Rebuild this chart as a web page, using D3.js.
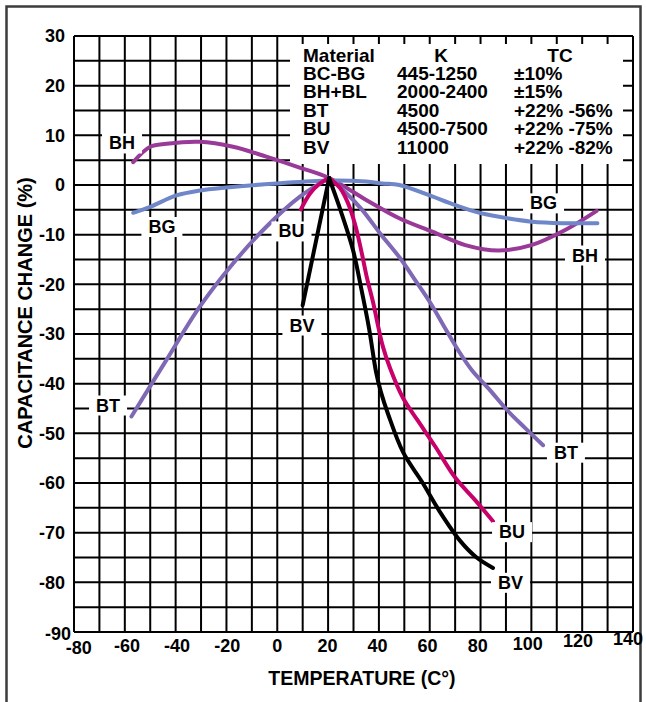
<!DOCTYPE html>
<html>
<head>
<meta charset="utf-8">
<script src="https://cdn.jsdelivr.net/npm/d3@7"></script>
<style>
  body { margin: 0; background: #fff; }
  text { font-family: "Liberation Sans", Arial, Helvetica, sans-serif; font-weight: bold; fill: #000; }
</style>
</head>
<body>
<div id="chart"></div>
<script>
// tick labels
var tempTicks = d3.range(-80, 141, 20);
var capTicks = d3.range(-90, 31, 10);

// curves: temperature (C) and capacitance change (%)
var refTemp = 20.4;
var bhTemp = [-56.7, -50, -43.6, -30.5, -17.4, -4.3, 8.8, 20.4, 35, 48, 61, 74, 87, 100, 113.5, 125.7];
var bhCap  = [4.6, 7.7, 8.3, 8.7, 7.7, 5.7, 3.5, 1.4, -3, -6.7, -9.4, -12.1, -13.2, -12.1, -9, -5.2];
var bgTemp = [-56.7, -50, -39.7, -30.5, -20, -0.4, 20.4, 35, 41.4, 48, 61, 67.7, 78.2, 87.3, 100.3, 113.5, 126];
var bgCap  = [-5.6, -4.4, -2.1, -1.1, -0.5, 0.3, 0.9, 0.7, 0.3, 0, -2.3, -3.6, -5.4, -6.4, -7.4, -7.7, -7.7];
var btTemp = [-57.4, -43.6, -30.5, -17.4, -4.3, 8.8, 20.4, 26.7, 33.4, 40.4, 48.3, 54.2, 60.1, 66, 71.1, 76.6, 83.7, 90.4, 97.5, 104.6];
var btCap  = [-46.6, -35.2, -24.5, -15.8, -8.4, -2.4, 1.4, -1.4, -5, -9.7, -14.7, -19.1, -23.6, -28.8, -33.2, -37.3, -41.3, -45.3, -48.9, -52.4];
var buTemp = [9.3, 12.9, 16.8, 20.4, 24.7, 27.8, 30.6, 33, 35.3, 37.7, 39.6, 41.6, 44.4, 49.5, 55.4, 62.1, 70, 77.8, 84.9];
var buCap  = [-4.9, -1.7, 0.3, 1.4, -0.6, -3.6, -7.9, -13.1, -18.7, -23.6, -28.2, -32.6, -36.9, -42.9, -47.5, -52.6, -58.9, -63.4, -67.7];
var bvTemp = [10, 20.4, 25.1, 29.8, 33, 36.1, 38.9, 40.8, 43.6, 49.5, 57, 64, 71.9, 78.2, 84.9];
var bvCap  = [-24.2, 1.4, -5.4, -13.1, -20.7, -28.8, -37.7, -41.7, -46.1, -53.8, -59.8, -65.8, -71.6, -74.9, -77.1];

// curve name labels (temperature, capacitance)
var labelNames = ["BH", "BG", "BU", "BV", "BT", "BG", "BH", "BT", "BU", "BV"];
var labelTemp  = [-61.1, -45.4, 5.6, 9.7, -66.6, 104.8, 121.1, 113.6, 92.4, 91.8];
var labelCap   = [8.46, -8.36, -9.26, -28.2, -44.3, -3.6, -14.1, -53.8, -69.8, -80.0];

// material table
var tableHead = ["Material", "K", "TC"];
var materials = ["BC-BG", "BH+BL", "BT", "BU", "BV"];
var kValues   = ["445-1250", "2000-2400", "4500", "4500-7500", "11000"];
var tcValues  = ["\u00b110%", "\u00b115%", "+22% -56%", "+22% -75%", "+22% -82%"];

var W = 646, H = 702;
var margin = {top: 36, right: 13, bottom: 70, left: 74};
var width = W - margin.left - margin.right,
    height = H - margin.top - margin.bottom;

var svg = d3.select("#chart").append("svg")
    .attr("width", W)
    .attr("height", H);

// outer frame
svg.append("rect")
    .attr("x", 6.5).attr("y", 6.5)
    .attr("width", 634).attr("height", 730)
    .attr("fill", "none")
    .attr("stroke", "#3c3c3c")
    .attr("stroke-width", 2.5);

var g = svg.append("g")
    .attr("transform", "translate(" + margin.left + "," + margin.top + ")");

var x = d3.scaleLinear().domain([-80, 140]).range([0, width]);
var y = d3.scaleLinear().domain([-90, 30]).range([height, 0]);

// grid
g.append("g").selectAll("line")
    .data(d3.range(-80, 141, 10))
  .enter().append("line")
    .attr("x1", d => x(d)).attr("x2", d => x(d))
    .attr("y1", 0).attr("y2", height)
    .attr("stroke", "#000").attr("stroke-width", 2);
g.append("g").selectAll("line")
    .data(d3.range(-90, 31, 5))
  .enter().append("line")
    .attr("x1", 0).attr("x2", width)
    .attr("y1", d => y(d)).attr("y2", d => y(d))
    .attr("stroke", "#000").attr("stroke-width", 2);

// y tick labels
g.append("g").selectAll("text")
    .data(capTicks)
  .enter().append("text")
    .attr("x", d => d == -90 ? -3 : -9)
    .attr("y", d => y(d) + (d == -90 ? 2 : 0))
    .attr("dy", "0.36em")
    .attr("text-anchor", "end")
    .style("font-size", "18px")
    .text(d => d);

// x tick labels (slightly drifting like the printed original)
g.append("g").selectAll("text")
    .data(tempTicks)
  .enter().append("text")
    .attr("x", d => x(d) - d * 0.035 + (d == -80 ? 2 : 0))
    .attr("y", d => height + 14 + (d == -80 ? 2 : 0) - (d >= 100 ? (d - 80) / 20 * 2.5 : 0))
    .attr("dy", "0.36em")
    .attr("text-anchor", "middle")
    .style("font-size", "18px")
    .text(d => d);

// axis titles
svg.append("text")
    .attr("transform", "translate(32," + 313 + ") rotate(-90)")
    .attr("text-anchor", "middle")
    .style("font-size", "20px")
    .text("CAPACITANCE CHANGE (%)");
svg.append("text")
    .attr("x", 362).attr("y", 685)
    .attr("text-anchor", "middle")
    .style("font-size", "19.5px")
    .text("TEMPERATURE (C\u00b0)");

// material table
var table = g.append("g").attr("transform", "translate(" + (290 - margin.left) + "," + (44 - margin.top) + ")");
table.append("rect")
    .attr("width", 333).attr("height", 120)
    .attr("fill", "#fff");
var colX = [13, 151, 270];
table.selectAll(".head")
    .data(tableHead)
  .enter().append("text")
    .attr("class", "head")
    .attr("x", (d, i) => colX[i])
    .attr("y", 18)
    .attr("text-anchor", (d, i) => i == 0 ? "start" : "middle")
    .style("font-size", "19px")
    .text(d => d);
var rowX = [13, 107, 224];
[materials, kValues, tcValues].forEach(function(col, c) {
  table.selectAll(".col" + c)
      .data(col)
    .enter().append("text")
      .attr("class", "col" + c)
      .attr("x", rowX[c])
      .attr("y", (d, i) => 36 + i * 18.4)
      .style("font-size", "19px")
      .text(d => d);
});

// curves
var series = [
  {name: "BH", temp: bhTemp, cap: bhCap, color: "#9a3a98", cusp: false},
  {name: "BG", temp: bgTemp, cap: bgCap, color: "#6f87c9", cusp: false},
  {name: "BT", temp: btTemp, cap: btCap, color: "#7f68b4", cusp: true},
  {name: "BU", temp: buTemp, cap: buCap, color: "#c8006a", cusp: true},
  {name: "BV", temp: bvTemp, cap: bvCap, color: "#000000", cusp: true}
];

var line = d3.line()
    .x(d => x(d[0]))
    .y(d => y(d[1]))
    .curve(d3.curveCatmullRom.alpha(0.5));

series.forEach(function(s) {
  var pts = s.temp.map((t, i) => [t, s.cap[i]]);
  var parts = [pts];
  if (s.cusp) {
    // the curves meet in a sharp point at the reference temperature
    var k = s.temp.indexOf(refTemp);
    parts = [pts.slice(0, k + 1), pts.slice(k)];
  }
  parts.forEach(function(p) {
    g.append("path")
        .datum(p)
        .attr("d", line)
        .attr("fill", "none")
        .attr("stroke", s.color)
        .attr("stroke-width", 4)
        .attr("stroke-linecap", "round")
        .attr("stroke-linejoin", "round");
  });
});

// curve labels with white boxes
var labels = g.append("g");
labelNames.forEach(function(name, i) {
  var lg = labels.append("g");
  var t = lg.append("text")
      .attr("x", x(labelTemp[i]))
      .attr("y", y(labelCap[i]))
      .attr("dy", "0.36em")
      .attr("text-anchor", "middle")
      .style("font-size", "18px")
      .text(name);
  var bb = t.node().getBBox();
  lg.insert("rect", "text")
      .attr("x", bb.x - 7).attr("y", bb.y)
      .attr("width", bb.width + 14).attr("height", bb.height)
      .attr("fill", "#fff");
});
</script>
</body>
</html>
